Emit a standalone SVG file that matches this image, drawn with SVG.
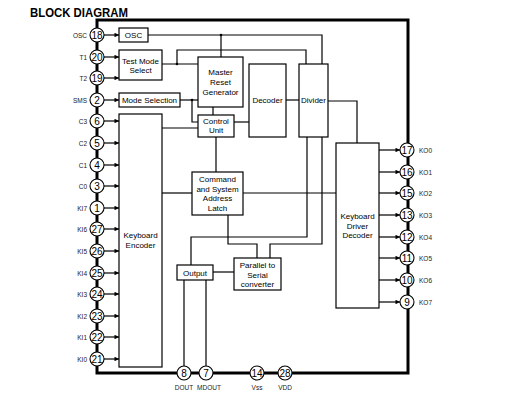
<svg xmlns="http://www.w3.org/2000/svg" width="529" height="408" viewBox="0 0 529 408">
<style>
.blk{fill:#fff;stroke:#000;stroke-width:1.2}
.ln{fill:none;stroke:#000;stroke-width:1.2}
.ar{fill:none;stroke:#000;stroke-width:1.2;marker-end:url(#ah)}
.t{font-family:"Liberation Sans",Arial,sans-serif;font-size:8px;text-anchor:middle;fill:#000}
.pn{font-family:"Liberation Sans",Arial,sans-serif;font-size:10px;text-anchor:middle;fill:#000}
.pl{font-family:"Liberation Sans",Arial,sans-serif;font-size:6.5px;fill:#222}
.pin{fill:#fff;stroke:#000;stroke-width:1.1}
.dot{fill:#000}
</style>
<defs>
<marker id="ah" viewBox="0 0 6 6" refX="6" refY="3" markerWidth="5" markerHeight="4.5" markerUnits="userSpaceOnUse" orient="auto">
<path d="M0,0 L6,3 L0,6 z" fill="#000"/>
</marker>
</defs>
<rect width="529" height="408" fill="#fff"/>
<text x="30" y="17" font-family="'Liberation Sans',Arial,sans-serif" font-weight="bold" font-size="12.5" textLength="98" lengthAdjust="spacingAndGlyphs">BLOCK DIAGRAM</text>
<rect id="border" x="97" y="20" width="311" height="353" fill="none" stroke="#000" stroke-width="3"/>

<g id="connectors">
<path class="ln" d="M148,35 H322 V64"/>
<path class="ln" d="M221,35 V57"/>
<path class="ln" d="M162,64 H198"/>
<path class="ln" d="M177,64 V50 H306 V64"/>
<path class="ln" d="M180,100 H198"/>
<path class="ln" d="M192,100 V122 H198"/>
<path class="ln" d="M213,107 V115"/>
<path class="ln" d="M234,122 H249"/>
<path class="ln" d="M286,100 H299"/>
<path class="ln" d="M328,101 H357 V143"/>
<path class="ln" d="M162,128 H198"/>
<path class="ln" d="M216,137 V172"/>
<path class="ln" d="M162,193 H192"/>
<path class="ln" d="M243,193 H336"/>
<path class="ln" d="M307,137 V237 H191 V265"/>
<path class="ln" d="M322,137 V244 H270 V258"/>
<path class="ln" d="M228,215 V244 H257 V258"/>
<path class="ln" d="M234,272 H213"/>
<path class="ln" d="M184,280 V366"/>
<path class="ln" d="M206,280 V366"/>
<circle class="dot" cx="221" cy="35" r="1.3"/>
<circle class="dot" cx="177" cy="64" r="1.3"/>
<circle class="dot" cx="192" cy="100" r="1.3"/>
<path class="ar" d="M104,35 H119"/>
<path class="ar" d="M104,57 H119"/>
<path class="ar" d="M104,78 H119"/>
<path class="ar" d="M104,100 H119"/>
<path class="ar" d="M104,121 H119"/>
<path class="ar" d="M104,143 H119"/>
<path class="ar" d="M104,165 H119"/>
<path class="ar" d="M104,186 H119"/>
<path class="ar" d="M104,208 H119"/>
<path class="ar" d="M104,229 H119"/>
<path class="ar" d="M104,251 H119"/>
<path class="ar" d="M104,273 H119"/>
<path class="ar" d="M104,294 H119"/>
<path class="ar" d="M104,316 H119"/>
<path class="ar" d="M104,337 H119"/>
<path class="ar" d="M104,359 H119"/>
<path class="ar" d="M379,150 H400"/>
<path class="ar" d="M379,172 H400"/>
<path class="ar" d="M379,193 H400"/>
<path class="ar" d="M379,215 H400"/>
<path class="ar" d="M379,237 H400"/>
<path class="ar" d="M379,258 H400"/>
<path class="ar" d="M379,280 H400"/>
<path class="ar" d="M379,302 H400"/>
</g>

<g id="osc"><rect class="blk" x="119" y="28" width="29" height="14"/><text class="t" x="133.5" y="38">OSC</text></g>
<g id="test-mode-select"><rect class="blk" x="119" y="50" width="43" height="30"/><text class="t" x="140.5" y="64">Test Mode</text><text class="t" x="140.5" y="73">Select</text></g>
<g id="mode-selection"><rect class="blk" x="119" y="93" width="61" height="14"/><text class="t" x="149.5" y="103">Mode Selection</text></g>
<g id="keyboard-encoder"><rect class="blk" x="119" y="114" width="43" height="253"/><text class="t" x="140.5" y="238">Keyboard</text><text class="t" x="140.5" y="248">Encoder</text></g>
<g id="master-reset"><rect class="blk" x="198" y="57" width="45" height="50"/><text class="t" x="220.5" y="75">Master</text><text class="t" x="220.5" y="85">Reset</text><text class="t" x="220.5" y="94.5">Generator</text></g>
<g id="control-unit"><rect class="blk" x="198" y="115" width="36" height="22"/><text class="t" x="216" y="123.5">Control</text><text class="t" x="216" y="133">Unit</text></g>
<g id="decoder"><rect class="blk" x="249" y="64" width="37" height="73"/><text class="t" x="267.5" y="103">Decoder</text></g>
<g id="divider"><rect class="blk" x="299" y="64" width="29" height="73"/><text class="t" x="313.5" y="103">Divider</text></g>
<g id="latch"><rect class="blk" x="192" y="172" width="51" height="43"/><text class="t" x="217.5" y="182">Command</text><text class="t" x="217.5" y="191.5">and System</text><text class="t" x="217.5" y="201">Address</text><text class="t" x="217.5" y="211">Latch</text></g>
<g id="output"><rect class="blk" x="177" y="265" width="36" height="15"/><text class="t" x="195" y="275.5">Output</text></g>
<g id="p2s"><rect class="blk" x="234" y="258" width="47" height="32"/><text class="t" x="257.5" y="268">Parallel to</text><text class="t" x="257.5" y="277.5">Serial</text><text class="t" x="257.5" y="287">converter</text></g>
<g id="kdd"><rect class="blk" x="336" y="143" width="43" height="165"/><text class="t" x="357.5" y="219">Keyboard</text><text class="t" x="357.5" y="229">Driver</text><text class="t" x="357.5" y="238">Decoder</text></g>

<g id="pins-left">
<g><circle class="pin" cx="97" cy="35" r="7"/><text class="pn" x="97" y="38.5">18</text><text class="pl" x="87" y="37.5" text-anchor="end">OSC</text></g>
<g><circle class="pin" cx="97" cy="57" r="7"/><text class="pn" x="97" y="60.5">20</text><text class="pl" x="87" y="59.5" text-anchor="end">T1</text></g>
<g><circle class="pin" cx="97" cy="78" r="7"/><text class="pn" x="97" y="81.5">19</text><text class="pl" x="87" y="80.5" text-anchor="end">T2</text></g>
<g><circle class="pin" cx="97" cy="100" r="7"/><text class="pn" x="97" y="103.5">2</text><text class="pl" x="87" y="102.5" text-anchor="end">SMS</text></g>
<g><circle class="pin" cx="97" cy="121" r="7"/><text class="pn" x="97" y="124.5">6</text><text class="pl" x="87" y="123.5" text-anchor="end">C3</text></g>
<g><circle class="pin" cx="97" cy="143" r="7"/><text class="pn" x="97" y="146.5">5</text><text class="pl" x="87" y="145.5" text-anchor="end">C2</text></g>
<g><circle class="pin" cx="97" cy="165" r="7"/><text class="pn" x="97" y="168.5">4</text><text class="pl" x="87" y="167.5" text-anchor="end">C1</text></g>
<g><circle class="pin" cx="97" cy="186" r="7"/><text class="pn" x="97" y="189.5">3</text><text class="pl" x="87" y="188.5" text-anchor="end">C0</text></g>
<g><circle class="pin" cx="97" cy="208" r="7"/><text class="pn" x="97" y="211.5">1</text><text class="pl" x="87" y="210.5" text-anchor="end">KI7</text></g>
<g><circle class="pin" cx="97" cy="229" r="7"/><text class="pn" x="97" y="232.5">27</text><text class="pl" x="87" y="231.5" text-anchor="end">KI6</text></g>
<g><circle class="pin" cx="97" cy="251" r="7"/><text class="pn" x="97" y="254.5">26</text><text class="pl" x="87" y="253.5" text-anchor="end">KI5</text></g>
<g><circle class="pin" cx="97" cy="273" r="7"/><text class="pn" x="97" y="276.5">25</text><text class="pl" x="87" y="275.5" text-anchor="end">KI4</text></g>
<g><circle class="pin" cx="97" cy="294" r="7"/><text class="pn" x="97" y="297.5">24</text><text class="pl" x="87" y="296.5" text-anchor="end">KI3</text></g>
<g><circle class="pin" cx="97" cy="316" r="7"/><text class="pn" x="97" y="319.5">23</text><text class="pl" x="87" y="318.5" text-anchor="end">KI2</text></g>
<g><circle class="pin" cx="97" cy="337" r="7"/><text class="pn" x="97" y="340.5">22</text><text class="pl" x="87" y="339.5" text-anchor="end">KI1</text></g>
<g><circle class="pin" cx="97" cy="359" r="7"/><text class="pn" x="97" y="362.5">21</text><text class="pl" x="87" y="361.5" text-anchor="end">KI0</text></g>
</g>

<g id="pins-right">
<g><circle class="pin" cx="407" cy="150" r="7"/><text class="pn" x="407" y="153.5">17</text><text class="pl" x="419" y="152.5">KO0</text></g>
<g><circle class="pin" cx="407" cy="172" r="7"/><text class="pn" x="407" y="175.5">16</text><text class="pl" x="419" y="174.5">KO1</text></g>
<g><circle class="pin" cx="407" cy="193" r="7"/><text class="pn" x="407" y="196.5">15</text><text class="pl" x="419" y="195.5">KO2</text></g>
<g><circle class="pin" cx="407" cy="215" r="7"/><text class="pn" x="407" y="218.5">13</text><text class="pl" x="419" y="217.5">KO3</text></g>
<g><circle class="pin" cx="407" cy="237" r="7"/><text class="pn" x="407" y="240.5">12</text><text class="pl" x="419" y="239.5">KO4</text></g>
<g><circle class="pin" cx="407" cy="258" r="7"/><text class="pn" x="407" y="261.5">11</text><text class="pl" x="419" y="260.5">KO5</text></g>
<g><circle class="pin" cx="407" cy="280" r="7"/><text class="pn" x="407" y="283.5">10</text><text class="pl" x="419" y="282.5">KO6</text></g>
<g><circle class="pin" cx="407" cy="302" r="7"/><text class="pn" x="407" y="305.5">9</text><text class="pl" x="419" y="304.5">KO7</text></g>
</g>

<g id="pins-bottom">
<g><circle class="pin" cx="184" cy="373" r="7"/><text class="pn" x="184" y="376.5">8</text><text class="pl" x="184" y="390" text-anchor="middle">DOUT</text></g>
<g><circle class="pin" cx="206" cy="373" r="7"/><text class="pn" x="206" y="376.5">7</text><text class="pl" x="209" y="390" text-anchor="middle">MDOUT</text></g>
<g><circle class="pin" cx="257" cy="373" r="7"/><text class="pn" x="257" y="376.5">14</text><text class="pl" x="257" y="390" text-anchor="middle">Vss</text></g>
<g><circle class="pin" cx="285" cy="373" r="7"/><text class="pn" x="285" y="376.5">28</text><text class="pl" x="285" y="390" text-anchor="middle">VDD</text></g>
</g>
</svg>
